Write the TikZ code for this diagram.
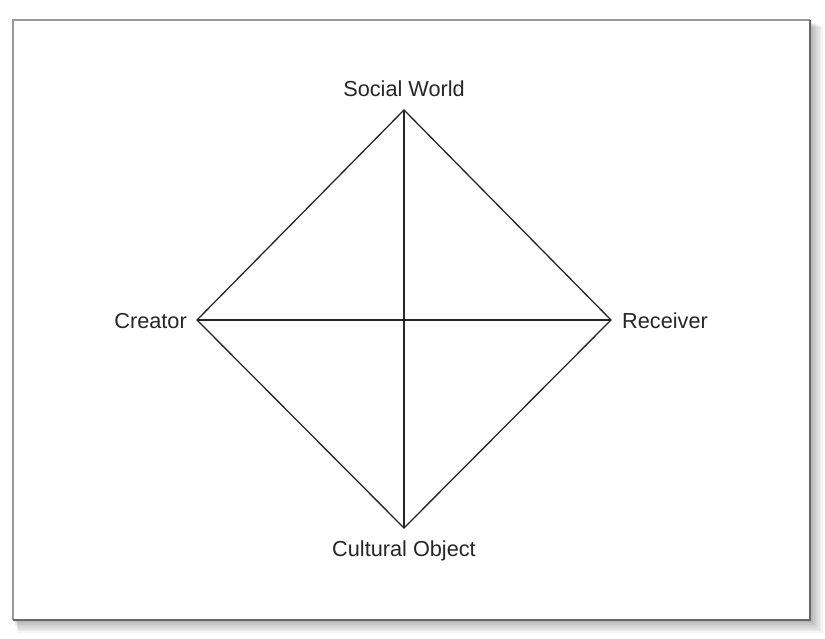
\documentclass[tikz,border=0pt]{standalone}
\usepackage{fontspec}
\setmainfont{Liberation Sans}
\begin{document}
\begin{tikzpicture}[x=1pt,y=-1pt,
  lbl/.style={font=\fontsize{21.7}{24}\selectfont, text=black!85, inner sep=0pt},
  edge/.style={draw=black!85, line width=1.3pt}]
\useasboundingbox (0,0) rectangle (825,639);
\fill[white] (0,0) rectangle (825,639);
% shadow
\foreach \i in {1,...,8}{
  \fill[black, opacity=0.04] (13+\i*0.6,20+\i*0.9) rectangle (810+\i*1.6,620+\i*1.6);
}
\fill[white] (13,20) rectangle (810,620);
\draw[black!40, line width=2pt] (13,620) -- (13,20) -- (810,20);
\draw[black!60, line width=2pt] (810,20) -- (810,620) -- (13,620);
% vertices
\coordinate (T) at (404,110);
\coordinate (B) at (404,528);
\coordinate (L) at (197,320);
\coordinate (R) at (611,320);
\draw[edge, line join=miter] (T) -- (R) -- (B) -- (L) -- cycle;
\draw[edge] (T) -- (B);
\draw[edge] (L) -- (R);
\node[lbl, anchor=base] (sw) at (404,97) {Social World};
\node[lbl, anchor=base] (co) at (404,556) {Cultural Object};
\node[lbl, anchor=base east] (cr) at (187,328) {Creator};
\node[lbl, anchor=base west] (rc) at (622,328) {Receiver};
\end{tikzpicture}
\end{document}
